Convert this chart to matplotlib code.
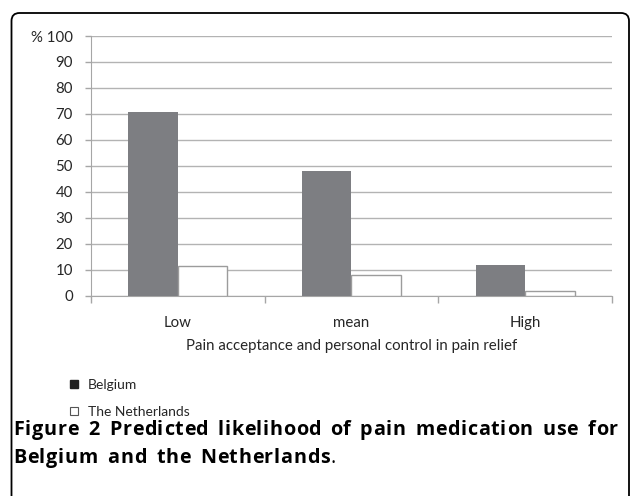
import matplotlib
matplotlib.use("Agg")
import matplotlib.pyplot as plt
import numpy as np
from matplotlib.patches import FancyBboxPatch
from matplotlib.lines import Line2D

# ── data ─────────────────────────────────────────────────────────────────────
categories = ["Low", "mean", "High"]
belgium = [70.7, 48.0, 11.8]
netherlands = [11.3, 8.0, 1.7]
series_names = ["Belgium", "The Netherlands"]
y_ticks = [0, 10, 20, 30, 40, 50, 60, 70, 80, 90, 100]
y_ticklabels = [str(v) for v in y_ticks[:-1]] + ["% 100"]
x_title = "Pain acceptance and personal control in pain relief"
caption_line1 = "Figure 2 Predicted likelihood of pain medication use for"
caption_line2 = "Belgium and the Netherlands"

W, H = 630, 496
fig = plt.figure(figsize=(W / 100, H / 100), dpi=100)
fig.patch.set_facecolor("white")

ax = fig.add_axes([91 / W, 1 - 295.5 / H, (612 - 91) / W, (295.5 - 36) / H])

chart_font = "Lato"
text_col = "#262626"

# ── bars ─────────────────────────────────────────────────────────────────────
x = np.arange(len(categories))
bw = 1 / 3.5
ax.bar(x - bw / 2, belgium, width=bw, color="#7d7e82", edgecolor="none", zorder=3)
ax.bar(x + bw / 2, netherlands, width=bw, color="white", edgecolor="#9c9c9c",
       linewidth=1.0, zorder=3)

ax.set_xlim(-0.5, len(categories) - 0.5)
ax.set_ylim(0, 100)

# grid / spines
ax.set_yticks(y_ticks)
ax.set_yticklabels(y_ticklabels, fontsize=10.8, family=chart_font, color=text_col)
ax.yaxis.grid(True, color="#b3b3b3", linewidth=1.0, zorder=0)
ax.tick_params(axis="y", length=4, width=1, color="#a6a6a6", pad=9)
for s in ["top", "right"]:
    ax.spines[s].set_visible(False)
ax.spines["left"].set_color("#a6a6a6")
ax.spines["bottom"].set_color("#a6a6a6")

# category ticks at group boundaries, labels at centres
ax.set_xticks(np.arange(-0.5, len(categories), 1.0))
ax.set_xticklabels([])
ax.tick_params(axis="x", which="major", length=5, width=1, color="#a6a6a6")
ax.set_xticks(x, minor=True)
ax.set_xticklabels(categories, minor=True, fontsize=10.8, family=chart_font,
                   color=text_col)
ax.tick_params(axis="x", which="minor", length=0, pad=15)
ax.set_xlabel(x_title, fontsize=10.8, family=chart_font, color=text_col,
              labelpad=6)

# ── legend ───────────────────────────────────────────────────────────────────
handles = [
    Line2D([], [], marker="s", linestyle="none", markersize=5.5,
           markerfacecolor="#222222", markeredgecolor="#222222"),
    Line2D([], [], marker="s", linestyle="none", markersize=5.5,
           markerfacecolor="white", markeredgecolor="#555555", markeredgewidth=0.8),
]
fig.legend(handles, series_names, loc="upper left",
           bbox_to_anchor=(60 / W, 1 - 372 / H), frameon=False,
           prop={"family": chart_font, "size": 10}, labelspacing=1.05,
           handletextpad=0.5, handlelength=1.0, borderpad=0)
for t in fig.legends[0].get_texts():
    t.set_color(text_col)

# ── frame ────────────────────────────────────────────────────────────────────
frame = FancyBboxPatch((0.115, -0.3), 6.175, 4.83 + 0.3,
                       boxstyle="round,pad=0,rounding_size=0.08",
                       transform=fig.dpi_scale_trans, facecolor="none",
                       edgecolor="black", linewidth=1.3, clip_on=False)
fig.patches.append(frame)

# ── caption: letter-spaced, line 1 justified ─────────────────────────────────
cap_font = "Open Sans"
cap_size = 14.2
y1 = 1 - 430 / H
y2 = 1 - 458 / H
fig.canvas.draw()
r = fig.canvas.get_renderer()
_cache = {}


def str_width(s, weight):
    key = (s, weight)
    if key not in _cache:
        a = fig.text(0, 0, "x" + s + "x", fontsize=cap_size, family=cap_font,
                     weight=weight)
        b = fig.text(0, 0, "xx", fontsize=cap_size, family=cap_font,
                     weight=weight)
        _cache[key] = a.get_window_extent(r).width - b.get_window_extent(r).width
        a.remove()
        b.remove()
    return _cache[key]


def draw_chars(s, x, y, weight, track, space_extra=0.0):
    for ch in s:
        if ch != " ":
            fig.text(x / W, y, ch, fontsize=cap_size, family=cap_font,
                     weight=weight, color="black", va="center", ha="left")
        x += str_width(ch, weight) + track + (space_extra if ch == " " else 0)
    return x


# line 1 fills the box: a little extra room in the word gaps, rest as tracking
extra = 3.0
nat1 = sum(str_width(c, "bold") for c in caption_line1)
n_sp = caption_line1.count(" ")
track = max(0.0, (617 - 13 - nat1 - extra * n_sp) / (len(caption_line1) - 1))
draw_chars(caption_line1, 13, y1, "bold", track, space_extra=extra)
x_end = draw_chars(caption_line2, 13, y2, "bold", track, space_extra=extra)
draw_chars(".", x_end, y2, "normal", 0)

fig.savefig("out.png", dpi=100)
